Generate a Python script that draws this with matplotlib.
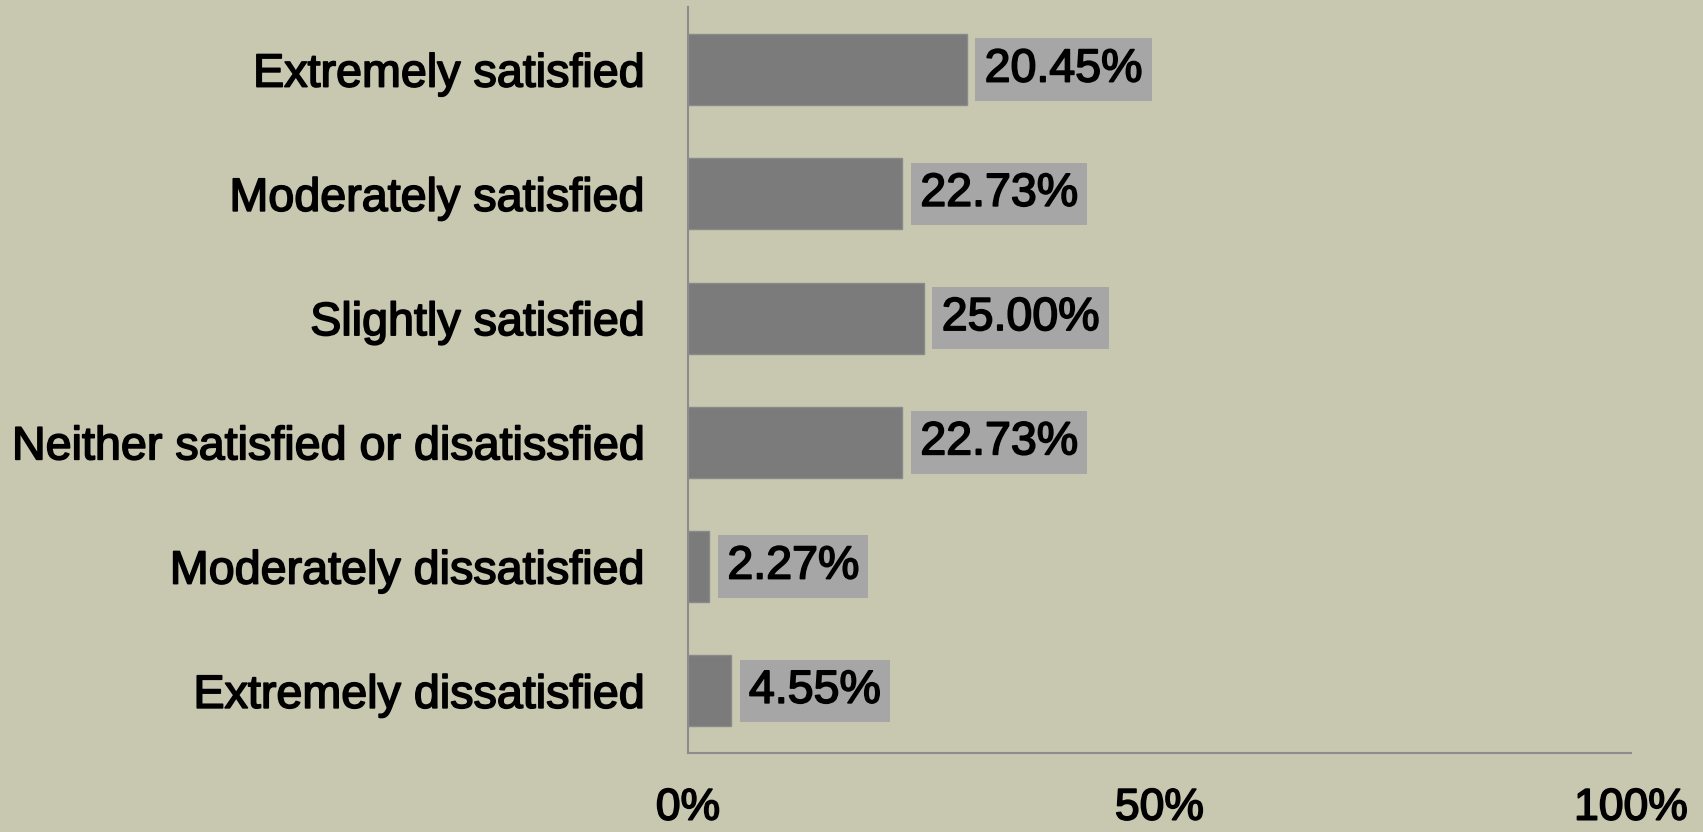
import matplotlib

matplotlib.use("Agg")
import matplotlib.pyplot as plt
import matplotlib.patheffects as pe
from matplotlib.ticker import FuncFormatter

# Werte (Balkenlänge und angezeigte Beschriftung weichen beim ersten Balken ab)
categories = [
    "Extremely satisfied",
    "Moderately satisfied",
    "Slightly satisfied",
    "Neither satisfied or disatissfied",
    "Moderately dissatisfied",
    "Extremely dissatisfied",
]
bar_values = [29.55, 22.73, 25.00, 22.73, 2.27, 4.55]
bar_labels = ["20.45%", "22.73%", "25.00%", "22.73%", "2.27%", "4.55%"]
x_ticks = [0, 50, 100]

BG = "#c8c8b1"
BAR = "#7b7b7b"
BOX = "#a6a6a6"
AXIS = "#8c8c8c"
FONT = "Liberation Sans"
# Schrift im Original wirkt etwas kräftiger als Liberation Sans Regular
heavy = [pe.withStroke(linewidth=1.2, foreground="black")]

fig = plt.figure(figsize=(17.03, 8.32), dpi=100, facecolor=BG)
ax = fig.add_axes([0.404, 0.095, 0.5537, 0.896], facecolor=BG)

ypos = list(range(len(categories)))[::-1]
ax.barh(ypos, bar_values, height=0.57, color=BAR, edgecolor="#8a8a8a", linewidth=1)

for y, v, lab in zip(ypos, bar_values, bar_labels):
    ax.annotate(lab, (v, y), xytext=(18, 0), textcoords="offset pixels",
                va="center", ha="left", fontsize=33.5, family=FONT, path_effects=heavy,
                bbox=dict(boxstyle="square,pad=0.2", facecolor=BOX, edgecolor="none"))

ax.set_xlim(0, 100)
ax.set_ylim(-0.5, 5.5)
ax.set_yticks(ypos)
ax.set_yticklabels(categories, fontsize=33.6, family=FONT)
ax.set_xticks(x_ticks)
ax.xaxis.set_major_formatter(FuncFormatter(lambda v, _: f"{v:.0f}%"))
for t in ax.get_xticklabels():
    t.set_fontsize(32)
    t.set_family(FONT)
for t in ax.get_xticklabels() + ax.get_yticklabels():
    t.set_path_effects(heavy)

ax.tick_params(axis="both", length=0)
ax.tick_params(axis="y", pad=31)
ax.tick_params(axis="x", pad=25)

for side in ("top", "right"):
    ax.spines[side].set_visible(False)
for side in ("left", "bottom"):
    ax.spines[side].set_color(AXIS)
    ax.spines[side].set_linewidth(1.5)

fig.savefig("out.png", dpi=100, facecolor=BG)
